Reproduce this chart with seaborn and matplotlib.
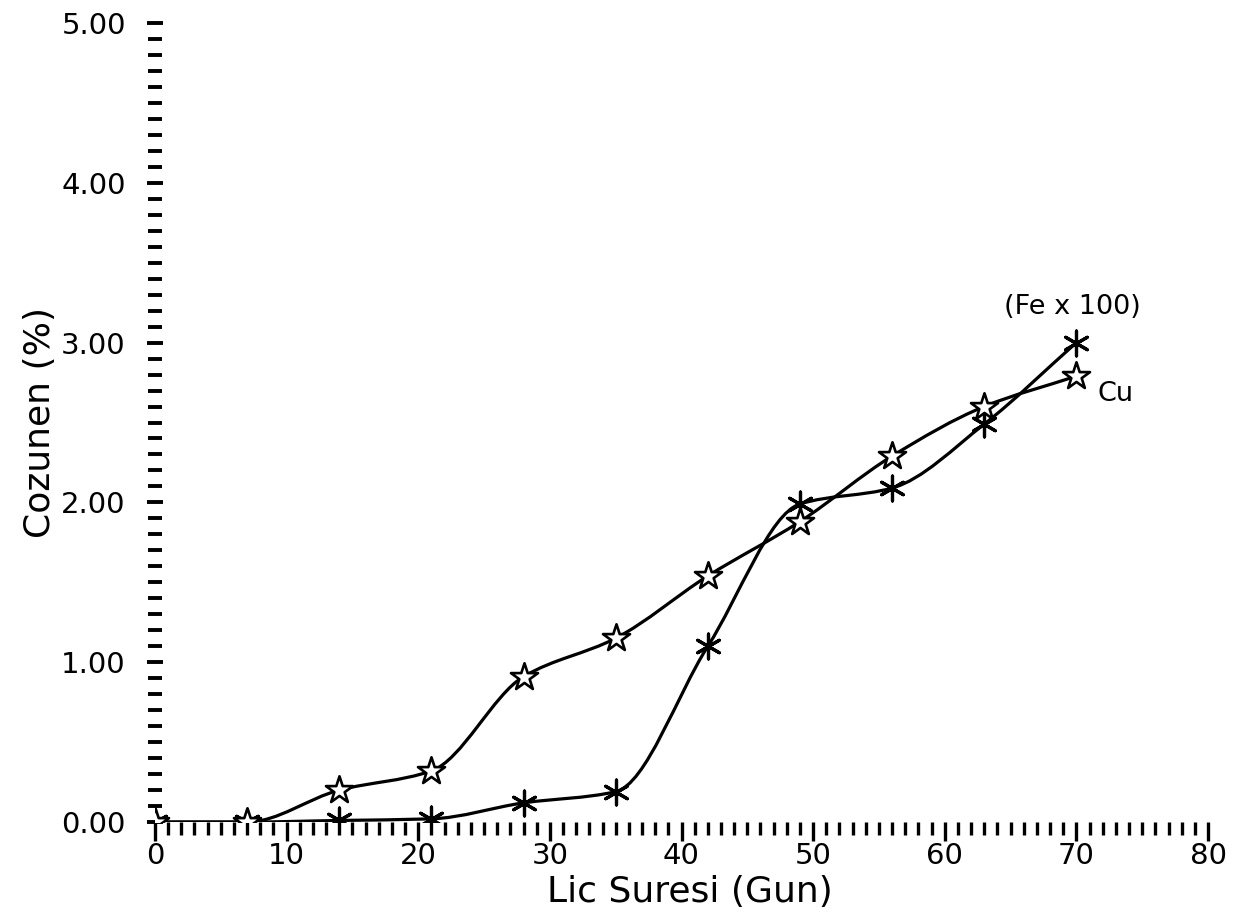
import numpy as np
import pandas as pd
import matplotlib
matplotlib.use("Agg")
import matplotlib.pyplot as plt
from matplotlib.path import Path
from matplotlib.patches import PathPatch
from matplotlib.ticker import MultipleLocator, FixedLocator
import seaborn as sns

# ---- data ----
days = [0, 7, 14, 21, 28, 35, 42, 49, 56, 63, 70]
cu_values = [0.00, 0.00, 0.20, 0.32, 0.91, 1.15, 1.54, 1.88, 2.29, 2.60, 2.79]
fe_values = [0.00, 0.00, 0.01, 0.02, 0.12, 0.19, 1.10, 1.99, 2.09, 2.49, 3.00]
x_ticks = [0, 10, 20, 30, 40, 50, 60, 70, 80]
y_ticks = [0, 1, 2, 3, 4, 5]
y_tick_labels = ["0.00", "1.00", "2.00", "3.00", "4.00", "5.00"]
x_label = "Lic Suresi (Gun)"
y_label = "Cozunen (%)"
fe_note = "(Fe x 100)"
cu_note = "Cu"

sns.set_theme(style="white")
plt.rcParams["font.family"] = ["DejaVu Sans"]
plt.rcParams["text.color"] = "black"
plt.rcParams["axes.labelcolor"] = "black"
plt.rcParams["xtick.color"] = "black"
plt.rcParams["ytick.color"] = "black"

df = pd.DataFrame({"day": days + days,
                   "value": cu_values + fe_values,
                   "metal": ["Cu"] * len(days) + ["Fe"] * len(days)})

fig = plt.figure(figsize=(12.5, 9.19), dpi=100)
ax = fig.add_axes([0.124, 0.1055, 0.8424, 0.8695])


def smooth_path(xs, ys):
    """Monotone cubic (PCHIP-style) curve through the measured points, as Bezier path."""
    xs = np.asarray(xs, float)
    ys = np.asarray(ys, float)
    h = np.diff(xs)
    d = np.diff(ys) / h
    m = np.zeros_like(ys)
    m[0], m[-1] = d[0], d[-1]
    for i in range(1, len(xs) - 1):
        if d[i - 1] * d[i] <= 0:
            m[i] = 0.0
        else:
            w1 = 2 * h[i] + h[i - 1]
            w2 = h[i] + 2 * h[i - 1]
            m[i] = (w1 + w2) / (w1 / d[i - 1] + w2 / d[i])
    verts = [(xs[0], ys[0])]
    codes = [Path.MOVETO]
    for i in range(len(xs) - 1):
        verts += [(xs[i] + h[i] / 3, ys[i] + m[i] * h[i] / 3),
                  (xs[i + 1] - h[i] / 3, ys[i + 1] - m[i + 1] * h[i] / 3),
                  (xs[i + 1], ys[i + 1])]
        codes += [Path.CURVE4] * 3
    return Path(verts, codes)


for vals in (cu_values, fe_values):
    ax.add_patch(PathPatch(smooth_path(days, vals), facecolor="none",
                           edgecolor="black", lw=2.3, zorder=2))

# markers through seaborn
sns.scatterplot(data=df[df.metal == "Fe"], x="day", y="value", ax=ax,
                marker=(6, 2, 0), s=320, color="black", linewidth=2.3,
                zorder=3, legend=False)
sns.scatterplot(data=df[df.metal == "Cu"], x="day", y="value", ax=ax,
                marker="*", s=420, facecolors="white", edgecolors="black",
                linewidth=1.9, zorder=4, legend=False)

ax.set_xlim(0, 80)
ax.set_ylim(0, 5)

for s in ax.spines.values():
    s.set_visible(False)

ax.xaxis.set_major_locator(FixedLocator(x_ticks))
ax.xaxis.set_minor_locator(MultipleLocator(1))
ax.yaxis.set_major_locator(FixedLocator(y_ticks))
ax.yaxis.set_minor_locator(MultipleLocator(0.1))
ax.set_xticklabels([str(v) for v in x_ticks])
ax.set_yticklabels(y_tick_labels)

ax.tick_params(axis="x", which="major", direction="out", length=14, width=2.4,
               pad=0.5, labelsize=21, colors="black", bottom=True)
ax.tick_params(axis="x", which="minor", direction="out", length=9, width=2.4,
               bottom=True)
ax.tick_params(axis="y", which="major", direction="inout", length=12, width=2.8,
               pad=15, labelsize=21, colors="black", left=True)
ax.tick_params(axis="y", which="minor", direction="inout", length=10, width=2.8,
               left=True)

ax.set_xlabel(x_label, fontsize=26)
ax.xaxis.set_label_coords(0.508, -0.066)
ax.set_ylabel(y_label, fontsize=26)
ax.yaxis.set_label_coords(-0.093, 0.50)

ax.text(69.7, 3.22, fe_note, fontsize=19.5, ha="center", va="center")
ax.text(71.6, 2.68, cu_note, fontsize=19.5, ha="left", va="center")

fig.savefig("out.png", dpi=100, facecolor="white")
